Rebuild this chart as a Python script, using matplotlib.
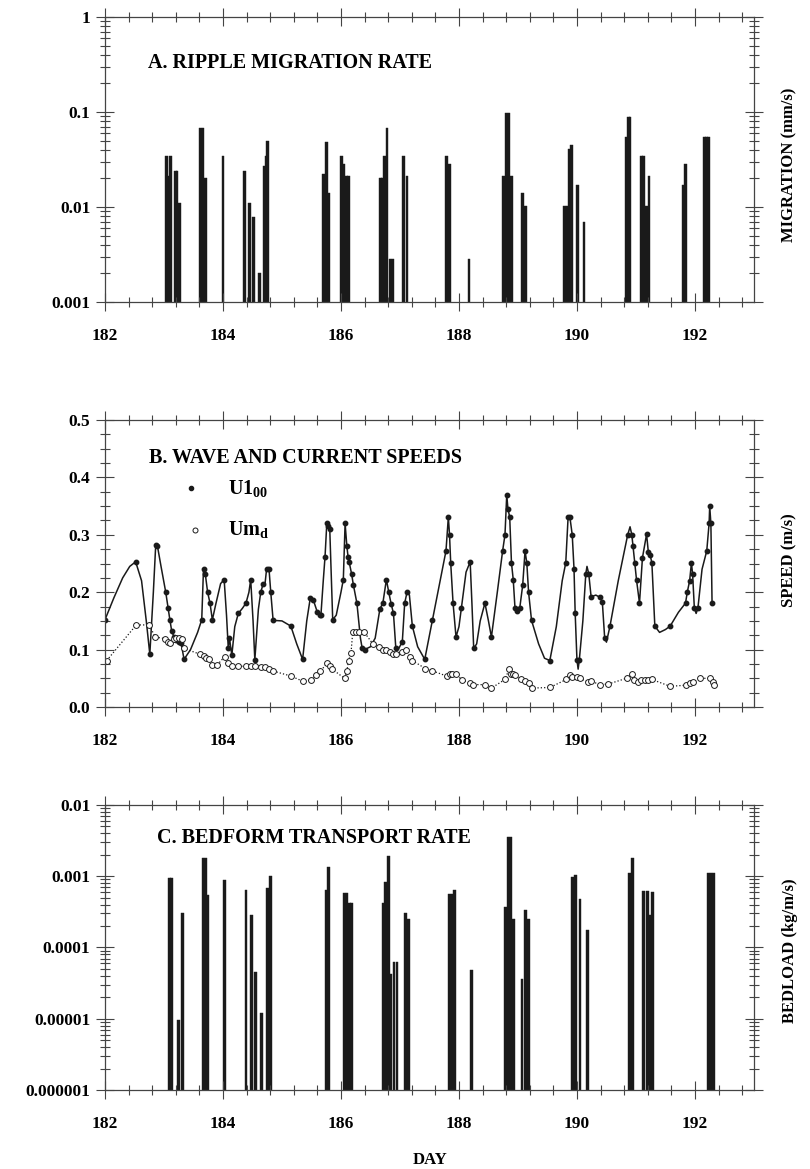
import numpy as np
import matplotlib
matplotlib.use("Agg")
import matplotlib.pyplot as plt
from matplotlib.ticker import MultipleLocator, FixedLocator, FixedFormatter, LogLocator, NullFormatter

plt.rcParams['font.family'] = ['Liberation Serif', 'DejaVu Serif']
plt.rcParams['font.weight'] = 'bold'
plt.rcParams['mathtext.fontset'] = 'custom'
plt.rcParams['mathtext.rm'] = 'Liberation Serif:bold'
plt.rcParams['mathtext.it'] = 'Liberation Serif:bold'
plt.rcParams['mathtext.bf'] = 'Liberation Serif:bold'

# ---- A. ripple migration rate (mm/s), one bar per ~hour
mig_day = [183.04, 183.08, 183.11, 183.19, 183.22, 183.26, 183.62, 183.66, 183.70,
           184.00, 184.36, 184.45, 184.52, 184.62, 184.70, 184.73, 184.76,
           185.70, 185.75, 185.79, 186.01, 186.05, 186.09, 186.13,
           186.67, 186.70, 186.74, 186.78, 186.83, 186.87, 187.06, 187.12,
           187.79, 187.84, 188.17, 188.76, 188.81, 188.85, 188.89, 189.08, 189.13,
           189.79, 189.83, 189.87, 189.91, 190.01, 190.12,
           190.83, 190.87, 190.90, 191.09, 191.13, 191.18, 191.22,
           191.80, 191.84, 192.16, 192.20, 192.23]
mig_val = [0.034, 0.021, 0.034, 0.024, 0.024, 0.011, 0.068, 0.068, 0.020,
           0.034, 0.024, 0.011, 0.0078, 0.002, 0.027, 0.034, 0.050,
           0.022, 0.048, 0.014, 0.034, 0.028, 0.021, 0.021,
           0.020, 0.020, 0.034, 0.068, 0.0028, 0.0028, 0.034, 0.021,
           0.034, 0.028, 0.0028, 0.021, 0.097, 0.097, 0.021, 0.014, 0.0103,
           0.0103, 0.0103, 0.041, 0.045, 0.017, 0.0069,
           0.055, 0.089, 0.089, 0.034, 0.034, 0.0103, 0.021,
           0.017, 0.028, 0.055, 0.055, 0.055]

# ---- B. wave and current speeds (m/s)
u100_day = [182.00, 182.15, 182.30, 182.42, 182.52, 182.62, 182.70, 182.76, 182.82, 182.86,
            182.89, 182.95, 183.03, 183.07, 183.10, 183.13, 183.17, 183.21, 183.25, 183.29,
            183.34, 183.45, 183.57, 183.64, 183.67, 183.70, 183.74, 183.78, 183.82, 183.88,
            183.96, 184.02, 184.06, 184.09, 184.11, 184.15, 184.20, 184.26, 184.33, 184.39,
            184.44, 184.47, 184.51, 184.54, 184.60, 184.64, 184.68, 184.71, 184.74, 184.78,
            184.81, 184.85, 185.00, 185.15, 185.25, 185.35, 185.42, 185.48, 185.53, 185.60,
            185.64, 185.66, 185.70, 185.73, 185.76, 185.78, 185.81, 185.86, 185.92, 186.00,
            186.04, 186.07, 186.10, 186.12, 186.14, 186.18, 186.21, 186.27, 186.33, 186.36,
            186.40, 186.50, 186.58, 186.66, 186.71, 186.77, 186.81, 186.85, 186.89, 186.93,
            186.97, 187.04, 187.08, 187.12, 187.16, 187.21, 187.30, 187.42, 187.55, 187.68,
            187.78, 187.82, 187.84, 187.86, 187.90, 187.95, 188.00, 188.04, 188.12, 188.19,
            188.22, 188.25, 188.30, 188.36, 188.44, 188.50, 188.55, 188.65, 188.74, 188.78,
            188.81, 188.83, 188.86, 188.89, 188.92, 188.95, 188.99, 189.03, 189.08, 189.12,
            189.15, 189.18, 189.23, 189.35, 189.45, 189.54, 189.65, 189.75, 189.81, 189.85,
            189.88, 189.92, 189.95, 189.97, 190.00, 190.02, 190.04, 190.10, 190.15, 190.17,
            190.20, 190.24, 190.32, 190.39, 190.43, 190.47, 190.50, 190.56, 190.70, 190.82,
            190.86, 190.90, 190.93, 190.95, 190.98, 191.01, 191.06, 191.11, 191.18, 191.21,
            191.24, 191.27, 191.32, 191.40, 191.50, 191.58, 191.72, 191.84, 191.87, 191.91,
            191.94, 191.96, 191.99, 192.02, 192.05, 192.12, 192.20, 192.24, 192.25, 192.27,
            192.29]
u100_val = [0.152, 0.190, 0.225, 0.245, 0.253, 0.220, 0.150, 0.092, 0.200, 0.282,
            0.280, 0.245, 0.200, 0.172, 0.152, 0.133, 0.122, 0.117, 0.113, 0.112,
            0.083, 0.100, 0.130, 0.152, 0.241, 0.232, 0.200, 0.181, 0.152, 0.180,
            0.215, 0.222, 0.160, 0.102, 0.120, 0.090, 0.140, 0.163, 0.172, 0.181,
            0.200, 0.222, 0.150, 0.082, 0.170, 0.200, 0.214, 0.212, 0.241, 0.241,
            0.200, 0.151, 0.150, 0.141, 0.110, 0.083, 0.150, 0.190, 0.187, 0.165,
            0.160, 0.160, 0.220, 0.262, 0.320, 0.316, 0.310, 0.152, 0.160, 0.200,
            0.222, 0.320, 0.280, 0.262, 0.252, 0.232, 0.213, 0.181, 0.120, 0.102,
            0.100, 0.105, 0.120, 0.171, 0.181, 0.222, 0.200, 0.180, 0.163, 0.102,
            0.100, 0.114, 0.181, 0.200, 0.195, 0.141, 0.105, 0.083, 0.151, 0.220,
            0.272, 0.331, 0.300, 0.251, 0.181, 0.122, 0.140, 0.172, 0.235, 0.253,
            0.180, 0.102, 0.110, 0.150, 0.181, 0.150, 0.122, 0.200, 0.272, 0.300,
            0.370, 0.345, 0.331, 0.251, 0.222, 0.172, 0.168, 0.172, 0.212, 0.272,
            0.251, 0.200, 0.151, 0.110, 0.085, 0.081, 0.140, 0.220, 0.251, 0.331,
            0.331, 0.300, 0.241, 0.163, 0.082, 0.066, 0.082, 0.150, 0.232, 0.245,
            0.232, 0.192, 0.195, 0.191, 0.183, 0.120, 0.113, 0.141, 0.220, 0.280,
            0.300, 0.314, 0.300, 0.281, 0.251, 0.221, 0.181, 0.260, 0.301, 0.270,
            0.265, 0.251, 0.141, 0.130, 0.135, 0.141, 0.165, 0.181, 0.200, 0.220,
            0.251, 0.232, 0.172, 0.163, 0.172, 0.240, 0.272, 0.320, 0.350, 0.320,
            0.181]
# 1 = sample shown with a dot, 0 = curve only
u100_dot = [1, 0, 0, 0, 1, 0, 0, 1, 0, 1,
            1, 0, 1, 1, 1, 1, 1, 1, 1, 1,
            1, 0, 0, 1, 1, 1, 1, 1, 1, 0,
            0, 1, 0, 1, 1, 1, 0, 1, 0, 1,
            0, 1, 0, 1, 0, 1, 1, 0, 1, 1,
            1, 1, 0, 1, 0, 1, 0, 1, 1, 1,
            1, 1, 0, 1, 1, 1, 1, 1, 0, 0,
            1, 1, 1, 1, 1, 1, 1, 1, 0, 1,
            1, 0, 0, 1, 1, 1, 1, 1, 1, 1,
            0, 1, 1, 1, 0, 1, 0, 1, 1, 0,
            1, 1, 1, 1, 1, 1, 0, 1, 0, 1,
            0, 1, 0, 0, 1, 0, 1, 0, 1, 1,
            1, 1, 1, 1, 1, 1, 1, 1, 1, 1,
            1, 1, 1, 0, 0, 1, 0, 0, 1, 1,
            1, 1, 1, 1, 1, 0, 1, 0, 1, 0,
            1, 1, 0, 1, 1, 1, 0, 1, 0, 0,
            1, 0, 1, 1, 1, 1, 1, 1, 1, 1,
            1, 1, 1, 0, 0, 1, 0, 1, 1, 1,
            1, 1, 1, 0, 1, 0, 1, 1, 1, 1,
            1]

umd_day = [182.03, 182.53, 182.75, 182.85, 183.02, 183.07, 183.11, 183.17, 183.21, 183.26,
           183.30, 183.34, 183.61, 183.67, 183.71, 183.76, 183.82, 183.90, 184.03, 184.09,
           184.15, 184.26, 184.39, 184.47, 184.54, 184.65, 184.72, 184.78, 184.84, 185.15,
           185.35, 185.49, 185.58, 185.65, 185.76, 185.81, 185.85, 186.06, 186.10, 186.13,
           186.17, 186.20, 186.25, 186.30, 186.39, 186.54, 186.65, 186.72, 186.77, 186.83,
           186.89, 186.94, 187.03, 187.10, 187.17, 187.21, 187.43, 187.55, 187.79, 187.85,
           187.89, 187.95, 188.05, 188.19, 188.24, 188.44, 188.55, 188.78, 188.85, 188.88,
           188.91, 188.95, 189.06, 189.12, 189.18, 189.23, 189.54, 189.82, 189.88, 189.92,
           190.00, 190.05, 190.18, 190.24, 190.39, 190.53, 190.84, 190.93, 190.97, 191.03,
           191.09, 191.15, 191.21, 191.27, 191.58, 191.84, 191.92, 191.97, 192.09, 192.26,
           192.30, 192.33]
umd_val = [0.081, 0.143, 0.143, 0.122, 0.119, 0.113, 0.111, 0.119, 0.120, 0.120,
           0.119, 0.102, 0.092, 0.089, 0.086, 0.083, 0.073, 0.073, 0.088, 0.076,
           0.071, 0.071, 0.071, 0.071, 0.072, 0.070, 0.069, 0.066, 0.063, 0.054,
           0.045, 0.047, 0.056, 0.062, 0.076, 0.071, 0.066, 0.050, 0.063, 0.081,
           0.094, 0.131, 0.131, 0.131, 0.131, 0.110, 0.104, 0.100, 0.100, 0.096,
           0.092, 0.092, 0.096, 0.100, 0.088, 0.081, 0.067, 0.063, 0.054, 0.057,
           0.058, 0.058, 0.047, 0.042, 0.039, 0.039, 0.033, 0.048, 0.066, 0.057,
           0.057, 0.056, 0.048, 0.046, 0.041, 0.033, 0.034, 0.048, 0.055, 0.053,
           0.052, 0.050, 0.044, 0.045, 0.039, 0.040, 0.050, 0.057, 0.047, 0.044,
           0.047, 0.047, 0.047, 0.048, 0.036, 0.038, 0.042, 0.044, 0.050, 0.050,
           0.044, 0.039]

# ---- C. bedform transport rate (kg/m/s)
bed_day = [183.09, 183.13, 183.25, 183.31, 183.66, 183.70, 183.74, 184.02, 184.39, 184.48,
           184.55, 184.65, 184.76, 184.80, 185.75, 185.79, 186.06, 186.10, 186.14, 186.18,
           186.72, 186.76, 186.81, 186.85, 186.90, 186.95, 187.09, 187.15, 187.84, 187.88,
           187.92, 188.21, 188.79, 188.83, 188.87, 188.93, 189.07, 189.13, 189.18, 189.93,
           189.98, 190.05, 190.18, 190.89, 190.94, 191.13, 191.19, 191.23, 191.28, 192.23,
           192.27, 192.31]
bed_val = [0.00093, 0.00093, 0.0000095, 0.0003, 0.0018, 0.0018, 0.00055, 0.00089, 0.00065, 0.00029,
           0.000046, 0.000012, 0.00069, 0.001, 0.00064, 0.00134, 0.00058, 0.00058, 0.00042, 0.00042,
           0.00042, 0.00082, 0.0019, 0.000042, 0.000062, 0.000062, 0.0003, 0.00025, 0.00056, 0.00056,
           0.00065, 0.000048, 0.00037, 0.0036, 0.0036, 0.00025, 0.000036, 0.00034, 0.00025, 0.00097,
           0.00105, 0.00048, 0.000174, 0.00112, 0.0018, 0.00062, 0.00062, 0.00029, 0.0006, 0.0011,
           0.0011, 0.0011]

mig_ticks = [0.001, 0.01, 0.1, 1]
mig_labels = ['0.001', '0.01', '0.1', '1']
spd_ticks = [0.0, 0.1, 0.2, 0.3, 0.4, 0.5]
spd_labels = ['0.0', '0.1', '0.2', '0.3', '0.4', '0.5']
bed_ticks = [1e-6, 1e-5, 1e-4, 1e-3, 1e-2]
bed_labels = ['0.000001', '0.00001', '0.0001', '0.001', '0.01']
day_ticks = [182, 184, 186, 188, 190, 192]

ink = '#1a1a1a'
frame = '#444444'

fig = plt.figure(figsize=(8.1, 11.69), dpi=100)
axA = fig.add_axes([0.1296, 0.7417, 0.8012, 0.2438])
axB = fig.add_axes([0.1296, 0.3952, 0.8012, 0.2455])
axC = fig.add_axes([0.1296, 0.0676, 0.8012, 0.2438])


def style(ax):
    ax.set_xlim(182, 193)
    ax.xaxis.set_major_locator(FixedLocator(day_ticks))
    ax.xaxis.set_minor_locator(MultipleLocator(0.4))
    ax.set_xticklabels([str(d) for d in day_ticks])
    ax.tick_params(which='both', direction='inout', top=True, right=True,
                   color=frame, width=0.8, labelsize=12.5, pad=12)
    ax.tick_params(which='major', length=13)
    ax.tick_params(which='minor', length=7)
    for s in ax.spines.values():
        s.set_color(frame)
        s.set_linewidth(0.9)
    for lab in ax.get_xticklabels() + ax.get_yticklabels():
        lab.set_fontweight('bold')


def bars(ax, days, vals, base):
    v = np.array(vals)
    ax.bar(days, v - base, bottom=base, width=0.046, color=ink, edgecolor=ink,
           linewidth=0.3, align='center')


# panel A
bars(axA, mig_day, mig_val, 0.001)
axA.set_yscale('log')
axA.set_ylim(0.001, 1)
axA.yaxis.set_major_locator(FixedLocator(mig_ticks))
axA.yaxis.set_major_formatter(FixedFormatter(mig_labels))
axA.yaxis.set_minor_locator(LogLocator(base=10, subs=np.arange(2, 10)))
axA.yaxis.set_minor_formatter(NullFormatter())
style(axA)
axA.tick_params(axis='y', pad=4)
axA.text(0.066, 0.839, 'A. RIPPLE MIGRATION RATE', transform=axA.transAxes,
         fontsize=14.5, fontweight='bold', va='center', ha='left')

# panel B
u_d = np.array(u100_day)
u_v = np.array(u100_val)
m = np.array(u100_dot) == 1
axB.plot(u_d, u_v, color=ink, lw=1.1)
axB.plot(u_d[m], u_v[m], 'o', color=ink, ms=3.2, lw=0)
axB.plot(umd_day, umd_val, ':', color=ink, lw=0.9, marker='o', ms=4.2,
         mfc='white', mec=ink, mew=0.7)
axB.set_ylim(0, 0.5)
axB.yaxis.set_major_locator(FixedLocator(spd_ticks))
axB.yaxis.set_major_formatter(FixedFormatter(spd_labels))
axB.yaxis.set_minor_locator(MultipleLocator(0.025))
style(axB)
axB.tick_params(axis='y', pad=4)
axB.text(0.068, 0.868, 'B. WAVE AND CURRENT SPEEDS', transform=axB.transAxes,
         fontsize=14.5, fontweight='bold', va='center', ha='left')
axB.plot([0.1325], [0.763], 'o', color=ink, ms=3, transform=axB.transAxes)
axB.plot([0.139], [0.617], 'o', mfc='white', mec=ink, mew=0.7, ms=3.6, transform=axB.transAxes)
axB.text(0.19, 0.763, r'U1$_{00}$', transform=axB.transAxes, fontsize=14.5,
         fontweight='bold', va='center', ha='left')
axB.text(0.19, 0.617, r'Um$_{d}$', transform=axB.transAxes, fontsize=14.5,
         fontweight='bold', va='center', ha='left')

# panel C
bars(axC, bed_day, bed_val, 1e-6)
axC.set_yscale('log')
axC.set_ylim(1e-6, 1e-2)
axC.yaxis.set_major_locator(FixedLocator(bed_ticks))
axC.yaxis.set_major_formatter(FixedFormatter(bed_labels))
axC.yaxis.set_minor_locator(LogLocator(base=10, subs=np.arange(2, 10)))
axC.yaxis.set_minor_formatter(NullFormatter())
style(axC)
axC.tick_params(axis='y', pad=4)
axC.text(0.080, 0.884, 'C. BEDFORM TRANSPORT RATE', transform=axC.transAxes,
         fontsize=14.5, fontweight='bold', va='center', ha='left')

fig.text(0.975, 0.859, 'MIGRATION (mm/s)', rotation=90, ha='center', va='center',
         fontsize=12, fontweight='bold')
fig.text(0.975, 0.521, 'SPEED (m/s)', rotation=90, ha='center', va='center',
         fontsize=12, fontweight='bold')
fig.text(0.975, 0.187, 'BEDLOAD (kg/m/s)', rotation=90, ha='center', va='center',
         fontsize=12, fontweight='bold')
fig.text(0.531, 0.0077, 'DAY', ha='center', va='center', fontsize=12, fontweight='bold')

fig.savefig('out.png', dpi=100)
